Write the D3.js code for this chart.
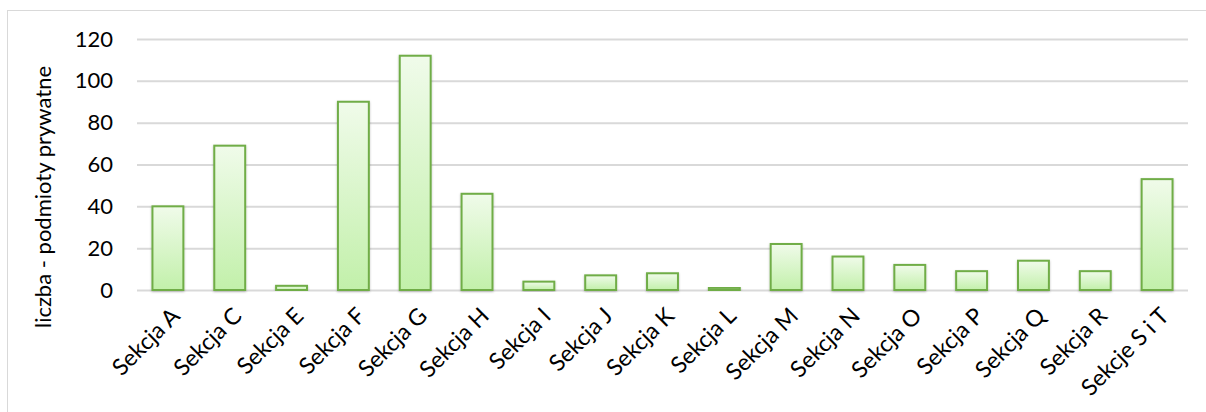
<!DOCTYPE html>
<head>
<meta charset="utf-8">
<title>Podmioty prywatne wg sekcji</title>
<style>
body { margin: 0; background: #fff; }
text { font-family: Lato, "Open Sans", sans-serif; fill: #000; }
</style>
</head>
<body>
<svg id="chart" width="1206" height="412"></svg>
<script src="https://cdn.jsdelivr.net/npm/d3@7"></script>
<script>
// ---- data ----
var categories = ["Sekcja A", "Sekcja C", "Sekcja E", "Sekcja F", "Sekcja G", "Sekcja H", "Sekcja I",
    "Sekcja J", "Sekcja K", "Sekcja L", "Sekcja M", "Sekcja N", "Sekcja O", "Sekcja P",
    "Sekcja Q", "Sekcja R", "Sekcje S i T"];
var values = [40, 69, 2, 90, 112, 46, 4, 7, 8, 1, 22, 16, 12, 9, 14, 9, 53];
var yTicks = [0, 20, 40, 60, 80, 100, 120];
var yTitle = "liczba - podmioty prywatne";

// ---- layout ----
var svg = d3.select("svg");
var plot = {left: 137, right: 1188, top: 39, bottom: 290};
var fontSize = "22px";

// chart frame
svg.append("rect")
    .attr("x", 7.5).attr("y", 10.5)
    .attr("width", 1220).attr("height", 420)
    .attr("fill", "#fff")
    .attr("stroke", "#d9d9d9")
    .attr("stroke-width", 1);

var x = d3.scaleBand().domain(categories).range([plot.left, plot.right]).paddingInner(0.5).paddingOuter(0.25);
var y = d3.scaleLinear().domain([0, 120]).range([plot.bottom, plot.top]);

// gradient for bars
var defs = svg.append("defs");
var grad = defs.append("linearGradient").attr("id", "barGrad")
    .attr("x1", 0).attr("y1", 0).attr("x2", 0).attr("y2", 1);
grad.append("stop").attr("offset", "0%").attr("stop-color", "#f0fbea");
grad.append("stop").attr("offset", "100%").attr("stop-color", "#c2f0aa");
var shadow = defs.append("filter").attr("id", "shadow")
    .attr("x", "-20%").attr("y", "-20%").attr("width", "140%").attr("height", "140%");
shadow.append("feDropShadow").attr("dx", 0).attr("dy", 1).attr("stdDeviation", 1.2)
    .attr("flood-color", "#000").attr("flood-opacity", 0.25);

// gridlines + y axis labels
var yAxis = d3.axisLeft(y).tickValues(yTicks).tickSize(-(plot.right - plot.left)).tickPadding(24);
svg.append("g")
    .attr("transform", "translate(" + plot.left + ",0)")
    .call(yAxis)
    .call(function (g) {
        g.select(".domain").remove();
        g.selectAll(".tick line").attr("stroke", "#d9d9d9").attr("stroke-width", 2);
        g.selectAll(".tick text").style("font-size", fontSize).style("font-family", "Lato, sans-serif").attr("fill", "#000");
    });

// y title
svg.append("text")
    .attr("transform", "translate(51,197) rotate(-90)")
    .attr("text-anchor", "middle")
    .style("font-size", fontSize)
    .text(yTitle);

// bars
svg.append("g").selectAll("rect")
    .data(values)
    .enter().append("rect")
    .attr("x", function (d, i) { return x(categories[i]); })
    .attr("y", function (d) { return y(d); })
    .attr("width", x.bandwidth())
    .attr("height", function (d) { return y(0) - y(d); })
    .attr("fill", "url(#barGrad)")
    .attr("stroke", "#70ad47")
    .attr("stroke-width", 2)
    .attr("filter", "url(#shadow)");

// x labels
svg.append("g").selectAll("text")
    .data(categories)
    .enter().append("text")
    .attr("transform", function (d) {
        return "translate(" + (x(d) + x.bandwidth() / 2 + 2) + ",306) rotate(-45)";
    })
    .attr("text-anchor", "end")
    .attr("dy", "0.7em")
    .style("font-size", "23px")
    .text(function (d) { return d; });
</script>
</body>
